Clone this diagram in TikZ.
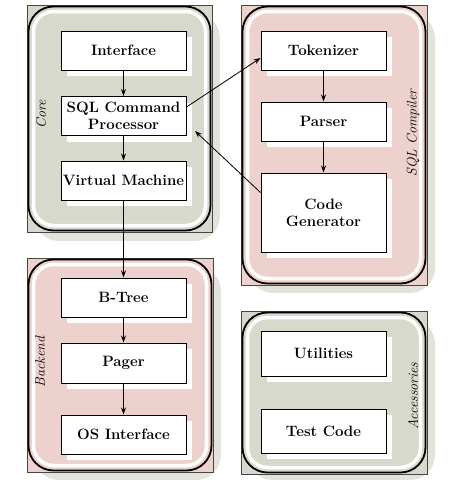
\documentclass[tikz,border=0pt]{standalone}
\usetikzlibrary{arrows.meta,shadows}
\definecolor{coregray}{RGB}{214,217,204}
\definecolor{backpink}{RGB}{237,209,205}
\definecolor{shadowgray}{RGB}{226,228,220}
\definecolor{edgegray}{RGB}{70,70,70}
\tikzset{
  modbox/.style={draw, fill=white, line width=1pt, minimum width=125pt,
    minimum height=39pt, inner sep=0pt, align=center,
    font=\fontsize{15}{17}\selectfont\bfseries,
    general shadow={fill=white, shadow xshift=6pt, shadow yshift=-6pt}},
  grplabel/.style={rotate=90, font=\fontsize{14}{16}\selectfont\itshape},
  flow/.style={-{Stealth[length=7pt,width=5pt]}, line width=0.8pt},
  grpshadow/.style={fill=shadowgray, rounded corners=25pt},
  grpframe/.style={draw=edgegray, line width=0.7pt},
  grphigh/.style={draw=white, line width=3.5pt, rounded corners=20pt},
  grpedge/.style={draw, line width=1.8pt, rounded corners=25pt}
}
\begin{document}
\begin{tikzpicture}[x=1pt, y=-1pt]
    \useasboundingbox (0,0) rectangle (450,480);
    % Core group
    \fill[grpshadow] (34,13) rectangle (220,241);
    \draw[grpframe, fill=coregray] (27,5) rectangle (212,232);
    \draw[grphigh] (33.5,11.5) rectangle (205.5,225.5);
    \draw[grpedge] (28.5,6.5) rectangle (210.5,230.5);
    % Backend group
    \fill[grpshadow] (34,266) rectangle (221,480);
    \draw[grpframe, fill=backpink] (27,258) rectangle (213,472);
    \draw[grphigh] (33.5,264.5) rectangle (206.5,465.5);
    \draw[grpedge] (28.5,259.5) rectangle (211.5,470.5);
    % SQL Compiler group
    \fill[grpshadow] (248,13) rectangle (435,293);
    \draw[grpframe, fill=backpink] (241,5) rectangle (427,285);
    \draw[grphigh] (247.5,11.5) rectangle (420.5,278.5);
    \draw[grpedge] (242.5,6.5) rectangle (425.5,283.5);
    % Accessories group
    \fill[grpshadow] (248,319) rectangle (435,480);
    \draw[grpframe, fill=coregray] (241,311) rectangle (427,474);
    \draw[grphigh] (247.5,317.5) rectangle (420.5,467.5);
    \draw[grpedge] (242.5,312.5) rectangle (425.5,472.5);

    % group labels
    \node[grplabel] (corelbl) at (41,114) {Core};
    \node[grplabel] (backlbl) at (40,362) {Backend};
    \node[grplabel] (complbl) at (413,133) {SQL Compiler};
    \node[grplabel] (acclbl) at (413,396) {Accessories};

    % modules
    \node[modbox] (iface) at (123.5,50.5) {Interface};
    \node[modbox] (sqlproc) at (123.5,116) {SQL Command\\Processor};
    \node[modbox] (vm) at (123.5,180.5) {Virtual Machine};
    \node[modbox] (btree) at (123.5,297.5) {B-Tree};
    \node[modbox, minimum height=40pt] (pager) at (123.5,363) {Pager};
    \node[modbox] (osif) at (123.5,434.5) {OS Interface};
    \node[modbox] (tok) at (323.5,50.5) {Tokenizer};
    \node[modbox] (parser) at (323.5,121.5) {Parser};
    \node[modbox, minimum height=79pt] (codegen) at (323.5,212.5) {Code\\Generator};
    \node[modbox, minimum height=45pt] (util) at (323.5,353.5) {Utilities};
    \node[modbox, minimum height=44pt] (test) at (323.5,431) {Test Code};

    % connectors
    \draw[flow] (iface) -- (sqlproc);
    \draw[flow] (sqlproc) -- (vm);
    \draw[flow] (vm) -- (btree);
    \draw[flow] (btree) -- (pager);
    \draw[flow] (pager) -- (osif);
    \draw[flow] (tok) -- (parser);
    \draw[flow] (parser) -- (codegen);
    \draw[flow] ([yshift=9pt]sqlproc.east) -- ([yshift=-7.5pt]tok.west);
    \coordinate (back) at (195,131);
    \draw[flow] ([yshift=20pt]codegen.west) -- (back);
\end{tikzpicture}
\end{document}
